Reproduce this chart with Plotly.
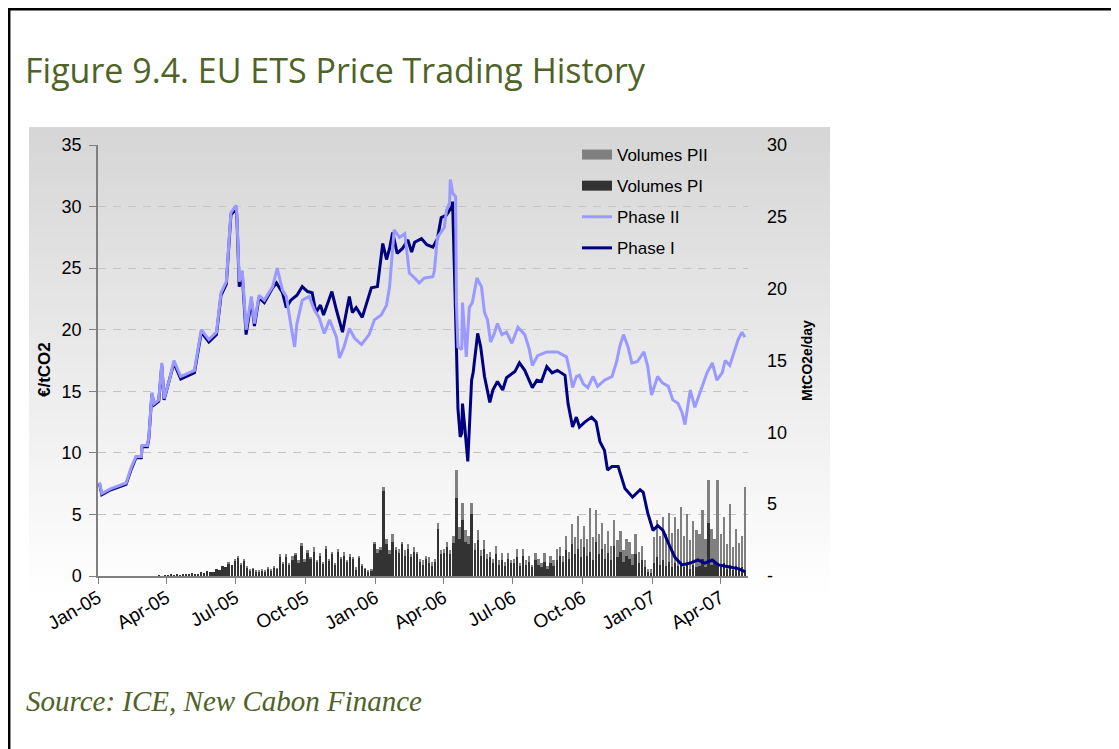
import plotly.graph_objects as go
import pandas as pd

# ---------------- data ----------------
quarter_ticks = ["2005-01-01", "2005-04-01", "2005-07-01", "2005-10-01", "2006-01-01",
                 "2006-04-01", "2006-07-01", "2006-10-01", "2007-01-01", "2007-04-01"]
quarter_labels = ["Jan-05", "Apr-05", "Jul-05", "Oct-05", "Jan-06",
                  "Apr-06", "Jul-06", "Oct-06", "Jan-07", "Apr-07"]

p2_dates = ["2005-01-03", "2005-01-06", "2005-01-18", "2005-01-31", "2005-02-07", "2005-02-14",
            "2005-02-20", "2005-02-27", "2005-02-28", "2005-03-07", "2005-03-09", "2005-03-13",
            "2005-03-16", "2005-03-22", "2005-03-26", "2005-03-29", "2005-04-05", "2005-04-11",
            "2005-04-20", "2005-05-08", "2005-05-17", "2005-05-27", "2005-06-06", "2005-06-12",
            "2005-06-19", "2005-06-25", "2005-07-02", "2005-07-03", "2005-07-06", "2005-07-10",
            "2005-07-15", "2005-07-22", "2005-07-26", "2005-08-01", "2005-08-08", "2005-08-19",
            "2005-08-25", "2005-09-01", "2005-09-06", "2005-09-13", "2005-09-17", "2005-09-20",
            "2005-09-27", "2005-10-06", "2005-10-13", "2005-10-19", "2005-10-26", "2005-11-02",
            "2005-11-11", "2005-11-15", "2005-11-21", "2005-11-28", "2005-12-05", "2005-12-14",
            "2005-12-24", "2005-12-31", "2006-01-09", "2006-01-16", "2006-01-20", "2006-01-26",
            "2006-02-02", "2006-02-09", "2006-02-15", "2006-02-22", "2006-02-28", "2006-03-07",
            "2006-03-18", "2006-03-20", "2006-03-24", "2006-04-02", "2006-04-05", "2006-04-09",
            "2006-04-10", "2006-04-13", "2006-04-17", "2006-04-18", "2006-04-20", "2006-04-25",
            "2006-04-26", "2006-05-01", "2006-05-05", "2006-05-09", "2006-05-15", "2006-05-21",
            "2006-05-25", "2006-05-29", "2006-06-02", "2006-06-07", "2006-06-11", "2006-06-17",
            "2006-06-23", "2006-06-30", "2006-07-08", "2006-07-17", "2006-07-23", "2006-07-27",
            "2006-08-03", "2006-08-15", "2006-08-29", "2006-09-10", "2006-09-14", "2006-09-18",
            "2006-09-23", "2006-09-27", "2006-10-02", "2006-10-08", "2006-10-15", "2006-10-21",
            "2006-10-30", "2006-11-09", "2006-11-15", "2006-11-19", "2006-11-24", "2006-11-30",
            "2006-12-05", "2006-12-12", "2006-12-21", "2006-12-26", "2006-12-31", "2007-01-08",
            "2007-01-14", "2007-01-22", "2007-01-28", "2007-02-04", "2007-02-09", "2007-02-13",
            "2007-02-20", "2007-02-26", "2007-03-05", "2007-03-14", "2007-03-21", "2007-03-27",
            "2007-04-03", "2007-04-07", "2007-04-13", "2007-04-20", "2007-04-24", "2007-04-29",
            "2007-05-03"]
p2_vals = [7.6, 6.7, 7.1, 7.4, 7.55, 8.85,
           9.7, 9.7, 10.6, 10.6, 11.3, 14.9,
           14.0, 14.3, 17.3, 14.4, 15.9, 17.5,
           16.2, 16.7, 20.0, 19.2, 19.8, 23.0,
           23.9, 29.5, 30.1, 29.2, 23.9, 24.8,
           20.0, 22.7, 20.5, 22.8, 22.4, 23.5,
           25.0, 23.2, 22.7, 20.0, 18.6, 20.5,
           22.4, 22.7, 21.6, 21.0, 19.7, 20.8,
           19.4, 17.7, 18.6, 20.1, 19.3, 18.8,
           19.6, 20.8, 21.2, 22.0, 23.5, 28.1,
           27.5, 27.8, 24.6, 24.2, 23.8, 24.2,
           24.3, 24.8, 27.5, 28.3, 29.7, 30.3,
           32.2, 31.1, 30.8, 22.2, 18.6, 18.4,
           22.2, 17.8, 21.8, 22.2, 24.2, 23.5,
           21.4, 20.8, 19.0, 19.7, 20.5, 19.6,
           19.8, 18.9, 20.2, 19.6, 18.4, 17.1,
           17.9, 18.2, 18.2, 17.8, 16.7, 15.3,
           16.2, 16.3, 15.6, 15.3, 16.2, 15.4,
           15.9, 16.2, 17.4, 18.6, 19.6, 18.6,
           17.3, 17.4, 18.2, 17.0, 14.7, 16.2,
           15.7, 15.4, 14.3, 14.0, 13.3, 12.3,
           15.1, 13.7, 14.9, 16.5, 17.3, 15.9,
           16.5, 17.5, 17.1, 18.4, 19.2, 19.8,
           19.4]

p1_dates = ["2005-01-03", "2005-01-06", "2005-01-18", "2005-01-31", "2005-02-07", "2005-02-14",
            "2005-02-20", "2005-02-27", "2005-02-28", "2005-03-07", "2005-03-09", "2005-03-13",
            "2005-03-16", "2005-03-22", "2005-03-26", "2005-03-29", "2005-04-05", "2005-04-11",
            "2005-04-20", "2005-05-08", "2005-05-17", "2005-05-27", "2005-06-06", "2005-06-12",
            "2005-06-19", "2005-06-25", "2005-07-02", "2005-07-03", "2005-07-06", "2005-07-10",
            "2005-07-15", "2005-07-22", "2005-07-26", "2005-08-01", "2005-08-08", "2005-08-19",
            "2005-08-24", "2005-09-01", "2005-09-06", "2005-09-12", "2005-09-20", "2005-09-27",
            "2005-10-04", "2005-10-10", "2005-10-15", "2005-10-21", "2005-10-25", "2005-11-05",
            "2005-11-11", "2005-11-19", "2005-11-28", "2005-12-02", "2005-12-07", "2005-12-15",
            "2005-12-27", "2006-01-04", "2006-01-11", "2006-01-16", "2006-01-20", "2006-01-24",
            "2006-01-30", "2006-02-06", "2006-02-13", "2006-02-18", "2006-02-22", "2006-03-03",
            "2006-03-10", "2006-03-18", "2006-03-24", "2006-03-29", "2006-04-05", "2006-04-12",
            "2006-04-13", "2006-04-17", "2006-04-18", "2006-04-20", "2006-04-23", "2006-04-25",
            "2006-04-26", "2006-04-29", "2006-05-03", "2006-05-08", "2006-05-10", "2006-05-16",
            "2006-05-20", "2006-05-25", "2006-06-01", "2006-06-05", "2006-06-11", "2006-06-18",
            "2006-06-23", "2006-07-04", "2006-07-10", "2006-07-17", "2006-07-27", "2006-08-02",
            "2006-08-08", "2006-08-15", "2006-08-22", "2006-08-29", "2006-09-08", "2006-09-12",
            "2006-09-18", "2006-09-23", "2006-09-27", "2006-10-04", "2006-10-13", "2006-10-19",
            "2006-10-24", "2006-10-30", "2006-11-03", "2006-11-09", "2006-11-17", "2006-11-26",
            "2006-12-06", "2006-12-16", "2006-12-20", "2006-12-26", "2007-01-02", "2007-01-08",
            "2007-01-15", "2007-01-24", "2007-01-31", "2007-02-09", "2007-02-20", "2007-03-02",
            "2007-03-11", "2007-03-21", "2007-03-29", "2007-04-11", "2007-04-24", "2007-05-03"]
p1_vals = [7.5, 6.6, 7.0, 7.3, 7.45, 8.7,
           9.6, 9.6, 10.5, 10.5, 11.2, 14.8,
           13.9, 14.2, 17.1, 14.3, 15.8, 17.3,
           16.0, 16.5, 19.8, 19.0, 19.6, 22.8,
           23.7, 29.3, 29.9, 29.0, 23.5, 24.5,
           19.6, 22.4, 20.3, 22.6, 22.2, 23.4,
           23.8, 23.0, 21.8, 22.4, 22.8, 23.5,
           23.1, 23.0, 21.4, 22.0, 21.2, 23.1,
           21.6, 19.8, 22.7, 21.4, 21.8, 21.0,
           23.4, 23.5, 27.0, 25.7, 26.6, 27.9,
           26.2, 26.6, 27.3, 26.3, 27.1, 27.4,
           26.9, 26.7, 27.4, 29.1, 29.3, 30.0,
           30.4, 22.2, 18.6, 13.6, 11.3, 11.6,
           14.0, 12.1, 9.3, 15.9, 16.5, 19.7,
           18.6, 16.2, 14.1, 15.1, 15.8, 15.1,
           16.1, 16.6, 17.3, 16.7, 15.3, 15.9,
           15.8, 17.0, 16.5, 16.7, 16.3, 14.0,
           12.1, 12.9, 12.1, 12.5, 12.9, 12.5,
           10.9, 10.2, 8.6, 8.9, 8.9, 7.1,
           6.4, 7.0, 6.8, 5.1, 3.7, 4.1,
           3.7, 2.4, 1.5, 0.9, 1.05, 1.3,
           1.05, 1.3, 0.9, 0.75, 0.6, 0.35]

# Volumes (MtCO2e/day), one value every 4 days from 1 Jan 2005
vol_start = "2005-01-01"
vol_pi = [
    0, 0, 0, 0, 0, 0, 0, 0,                                  # Jan-05
    0, 0, 0, 0, 0, 0, 0,                                     # Feb-05
    0, 0, 0, 0, 0, 0.05, 0, 0.05,                            # Mar-05
    0.05, 0.1, 0.05, 0.1, 0.05, 0.1, 0.15,                   # Apr-05
    0.1, 0.2, 0.1, 0.15, 0.3, 0.2, 0.35, 0.25,               # May-05
    0.3, 0.5, 0.4, 0.7, 0.6, 0.9, 0.8, 1.1,                  # Jun-05
    1.3, 0.8, 1.1, 0.6, 0.4, 0.5, 0.3,                       # Jul-05
    0.3, 0.4, 0.3, 0.5, 0.4, 0.6, 0.5, 1.3,                  # Aug-05
    0.9, 1.3, 0.8, 1.1, 1.5, 0.9, 2.1, 1.0,                  # Sep-05
    1.6, 1.2, 1.7, 1.0, 1.4, 0.9, 1.9,                       # Oct-05
    1.1, 1.5, 0.8, 1.7, 1.2, 1.4, 1.0, 1.3,                  # Nov-05
    1.2, 0.4, 1.3, 0.7, 0.5, 0.3, 0.4, 2.2,                  # Dec-05
    1.6, 1.8, 5.9, 2.2, 1.5, 2.4, 1.8,                       # Jan-06
    1.6, 2.2, 1.4, 1.9, 1.3, 1.7, 1.5,                       # Feb-06
    1.0, 0.8, 1.2, 0.9, 0.7, 1.0, 3.3, 1.5,                  # Mar-06
    1.6, 2.0, 1.5, 2.3, 5.4, 2.6, 3.9, 2.4,                  # Apr-06
    2.2, 4.3, 1.8, 2.5, 1.4, 1.9, 1.2,                       # May-06
    1.3, 0.9, 1.5, 0.8, 1.1, 0.7, 1.2, 0.9,                  # Jun-06
    0.9, 1.3, 0.7, 1.4, 0.8, 1.0, 0.6, 1.1,                  # Jul-06
    0.8, 0.6, 1.0, 0.5, 0.9, 0.7, 1.1,                       # Aug-06
    1.4, 1.0, 1.8, 1.2, 2.2, 1.5, 1.9, 1.3,                  # Sep-06
    2.0, 1.4, 1.7, 1.1, 2.4, 1.5, 1.9, 1.2,                  # Oct-06
    1.6, 1.1, 2.1, 1.3, 1.7, 1.0, 1.4,                       # Nov-06
    1.2, 0.8, 1.5, 0.9, 1.1, 0.6, 0.3, 0.2,                  # Dec-06
    0.9, 1.3, 0.8, 1.1, 0.7, 1.0, 0.6, 0.9,                  # Jan-07
    0.7, 1.0, 0.6, 0.9, 0.5, 0.8, 0.6,                       # Feb-07
    0.7, 1.2, 0.6, 3.7, 0.8, 1.0, 0.9,                       # Mar-07
    0.6, 0.9, 0.5, 0.8, 0.4, 0.7, 0.5, 0.6,                  # Apr-07
    0.4,                                                     # May-07
]
vol_pii = [
    0, 0, 0, 0, 0, 0, 0, 0,                                  # Jan-05
    0, 0, 0, 0, 0, 0, 0,                                     # Feb-05
    0, 0, 0, 0, 0, 0, 0, 0,                                  # Mar-05
    0, 0, 0, 0, 0, 0, 0,                                     # Apr-05
    0, 0, 0, 0, 0, 0, 0, 0,                                  # May-05
    0, 0, 0, 0, 0, 0.05, 0, 0.1,                             # Jun-05
    0.1, 0.05, 0.1, 0.05, 0.05, 0.05, 0.05,                  # Jul-05
    0.05, 0.1, 0.05, 0.1, 0.05, 0.1, 0.05, 0.2,              # Aug-05
    0.1, 0.2, 0.1, 0.3, 0.1, 0.2, 0.2, 0.2,                  # Sep-05
    0.2, 0.1, 0.3, 0.1, 0.2, 0.1, 0.2,                       # Oct-05
    0.1, 0.2, 0.1, 0.2, 0.1, 0.3, 0.1, 0.2,                  # Nov-05
    0.1, 0.2, 0.1, 0.1, 0.05, 0.05, 0.1, 0.2,                # Dec-05
    0.3, 0.2, 0.3, 0.4, 0.3, 0.5, 0.2,                       # Jan-06
    0.3, 0.2, 0.4, 0.3, 0.2, 0.3, 0.2,                       # Feb-06
    0.2, 0.3, 0.2, 0.4, 0.3, 0.2, 0.4, 0.3,                  # Mar-06
    0.3, 0.4, 0.3, 0.5, 2.0, 0.8, 1.2, 0.8,                  # Apr-06
    0.6, 0.8, 0.5, 0.7, 0.4, 0.6, 0.3,                       # May-06
    0.4, 0.3, 0.6, 0.3, 0.5, 0.3, 0.4, 0.2,                  # Jun-06
    0.3, 0.6, 0.2, 0.5, 0.3, 0.4, 0.2, 0.5,                  # Jul-06
    0.4, 0.3, 0.6, 0.2, 0.5, 0.4, 0.8,                       # Aug-06
    0.6, 0.4, 1.0, 0.5, 1.4, 1.2, 2.3, 1.3,                  # Sep-06
    1.5, 1.2, 3.0, 1.6, 2.2, 1.4, 1.8, 1.0,                  # Oct-06
    1.5, 1.0, 1.8, 1.2, 1.4, 0.8, 1.2,                       # Nov-06
    1.2, 0.7, 1.4, 0.8, 1.0, 0.5, 0.2, 0.3,                  # Dec-06
    1.8, 2.6, 2.0, 3.0, 2.2, 3.4, 2.4, 3.2,                  # Jan-07
    2.6, 3.8, 2.2, 3.4, 2.0, 3.0, 2.6,                       # Feb-07
    2.2, 3.4, 2.0, 3.0, 2.5, 1.6, 5.8,                       # Mar-07
    2.3, 3.2, 1.7, 4.2, 1.6, 2.6, 1.8, 2.2,                  # Apr-07
    5.8,                                                     # May-07
]
n_vol = min(len(vol_pi), len(vol_pii))
vol_dates = pd.date_range(vol_start, periods=n_vol, freq="4D")

# ---------------- layout geometry ----------------
# Positions below are given in screenshot pixels; the page body adds an 8 px offset.
W, H = 1119, 749
OFF = 8
SL, SR, ST, SB = 98, 748, 145, 576          # plot area in screenshot pixels
L, R, T, B = SL - OFF, SR - OFF, ST - OFF, SB - OFF


def px_x(px):
    return (px - SL) / (SR - SL)


def px_y(py):
    return (SB - py) / (SB - ST)


GREEN = "#4F6228"
FONT = "Liberation Sans, Arial, sans-serif"
C_PII_VOL, C_PI_VOL = "#808080", "#333333"
C_PII, C_PI = "#9999FF", "#000080"

fig = go.Figure()

bar_w = 3 * 86400000
fig.add_trace(go.Bar(x=vol_dates, y=vol_pi[:n_vol], name="Volumes PI", yaxis="y",
                     marker=dict(color=C_PI_VOL, line=dict(width=0)), width=bar_w,
                     showlegend=False, legendgroup="b"))
fig.add_trace(go.Bar(x=vol_dates, y=vol_pii[:n_vol], name="Volumes PII", yaxis="y",
                     marker=dict(color=C_PII_VOL, line=dict(width=0)), width=bar_w,
                     showlegend=False, legendgroup="a"))
# legend keys for the volume bars (wide blocks like the original legend)
fig.add_trace(go.Scatter(x=[None], y=[None], name="Volumes PII", yaxis="y", mode="lines",
                         line=dict(color=C_PII_VOL, width=15), legendrank=1, legendgroup="a"))
fig.add_trace(go.Scatter(x=[None], y=[None], name="Volumes PI", yaxis="y", mode="lines",
                         line=dict(color=C_PI_VOL, width=15), legendrank=2, legendgroup="b"))
fig.add_trace(go.Scatter(x=p1_dates, y=p1_vals, name="Phase I", yaxis="y2", mode="lines",
                         line=dict(color=C_PI, width=3), legendrank=4, legendgroup="d"))
fig.add_trace(go.Scatter(x=p2_dates, y=p2_vals, name="Phase II", yaxis="y2", mode="lines",
                         line=dict(color=C_PII, width=3), legendrank=3, legendgroup="c"))

# chart-area gradient (light grey at top fading to white)
shapes = []
g_top, g_bot = 127, 600
n_strip = 60
for k in range(n_strip):
    y0 = g_top + (g_bot - g_top) * k / n_strip
    y1 = g_top + (g_bot - g_top) * (k + 1) / n_strip + 0.8
    g = int(round(214 + (255 - 214) * k / (n_strip - 1)))
    shapes.append(dict(type="rect", xref="paper", yref="paper", layer="below",
                       x0=px_x(29), x1=px_x(830), y0=px_y(y1), y1=px_y(y0),
                       fillcolor=f"rgb({g},{g},{g})", line=dict(width=0)))
# outer frame
shapes.append(dict(type="rect", xref="paper", yref="paper", layer="above",
                   x0=px_x(9.2), x1=px_x(1140), y0=px_y(770), y1=px_y(9.2),
                   line=dict(color="black", width=2.5), fillcolor="rgba(0,0,0,0)"))

annotations = [
    dict(text="Figure 9.4. EU ETS Price Trading History", xref="paper", yref="paper",
         x=px_x(23), y=px_y(70), xanchor="left", yanchor="middle", showarrow=False,
         font=dict(family="Open Sans, sans-serif", size=34, color=GREEN)),
    dict(text="<i>Source: ICE, New Cabon Finance</i>", xref="paper", yref="paper",
         x=px_x(24), y=px_y(701), xanchor="left", yanchor="middle", showarrow=False,
         font=dict(family="Liberation Serif, Times New Roman, serif", size=29, color=GREEN)),
    dict(text="<b>€/tCO2</b>", xref="paper", yref="paper", x=px_x(44), y=px_y(370),
         xanchor="center", yanchor="middle", textangle=-90, showarrow=False,
         font=dict(family=FONT, size=17, color="black")),
    dict(text="<b>MtCO2e/day</b>", xref="paper", yref="paper", x=px_x(807), y=px_y(361),
         xanchor="center", yanchor="middle", textangle=-90, showarrow=False,
         font=dict(family=FONT, size=14, color="black")),
]

fig.update_layout(
    width=W, height=H,
    margin=dict(l=L, r=W - R, t=T, b=H - B, pad=0),
    paper_bgcolor="white", plot_bgcolor="rgba(0,0,0,0)",
    font=dict(family=FONT, color="black"),
    barmode="stack",
    showlegend=True,
    legend=dict(x=px_x(577), y=px_y(137), xanchor="left", yanchor="top",
                bgcolor="rgba(0,0,0,0)", font=dict(family=FONT, size=17, color="black"),
                traceorder="grouped", tracegroupgap=6, itemwidth=30),
    xaxis=dict(type="date", range=["2005-01-01", "2007-05-07"],
               tickvals=quarter_ticks, ticktext=quarter_labels, tickangle=-30,
               tickfont=dict(family=FONT, size=19, color="black"),
               ticks="outside", ticklen=6, tickcolor="#808080", tickwidth=1,
               ticklabelstandoff=-4,
               showline=True, linecolor="#808080", linewidth=1.5,
               showgrid=False, zeroline=False),
    yaxis=dict(range=[0, 30], side="right",
               tickvals=[0, 5, 10, 15, 20, 25, 30],
               ticktext=["-", "5", "10", "15", "20", "25", "30"],
               tickfont=dict(family=FONT, size=18, color="black"),
               ticks="", ticklabelstandoff=18, showgrid=False, showline=False,
               zeroline=False),
    yaxis2=dict(range=[0, 35], side="left", overlaying="y",
                tickvals=[0, 5, 10, 15, 20, 25, 30, 35],
                tickfont=dict(family=FONT, size=18, color="black"),
                ticks="outside", ticklen=7, tickcolor="#808080", tickwidth=1,
                ticklabelstandoff=4,
                showline=True, linecolor="#808080", linewidth=1.5,
                showgrid=True, gridcolor="#C4C4C4", griddash="8px,7px", gridwidth=1,
                zeroline=False),
    shapes=shapes,
    annotations=annotations,
)

fig.write_html("out.html")
